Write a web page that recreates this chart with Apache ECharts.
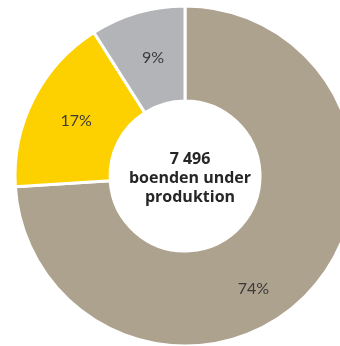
<!DOCTYPE html>
<html><head><meta charset="utf-8">
<script src="https://cdn.jsdelivr.net/npm/echarts@6/dist/echarts.min.js"></script>
<style>html,body{margin:0;padding:0;background:#fff}#c{width:340px;height:346px}</style>
</head><body><div id="c"></div>
<script>
const categories = ['A', 'B', 'C'];
const values = [74, 17, 9];
const colors = ['#ADA28D', '#FDD000', '#B3B4B7'];
const totalLabel = '7 496';
const centerLabel = ['boenden under', 'produktion'];

const chart = echarts.init(document.getElementById('c'));
chart.setOption({
  animation: false,
  title: {
    text: totalLabel + '\n' + centerLabel.join('\n'),
    left: 185, top: 145, textAlign: 'center',
    textStyle: { fontFamily: 'Open Sans', fontWeight: 'bold', fontSize: 16, lineHeight: 19, color: '#262626' }
  },
  series: [{
    type: 'pie',
    center: [185, 176],
    radius: [75, 170],
    startAngle: 90,
    clockwise: true,
    label: {
      show: true, position: 'inside',
      formatter: '{d}%',
      fontFamily: 'Lato', fontWeight: 'normal', fontSize: 16, color: '#3a3a3a'
    },
    labelLayout: function (p) {
      if (p.dataIndex === 0) return { dx: -23, dy: 27 };
      if (p.dataIndex === 1) return { dx: 3, dy: 2 };
      return { dx: 3, dy: 2 };
    },
    labelLine: { show: false },
    itemStyle: { borderColor: '#fff', borderWidth: 3 },
    data: categories.map((c, i) => ({
      name: c, value: values[i], itemStyle: { color: colors[i] }
    }))
  }]
});
</script></body></html>
